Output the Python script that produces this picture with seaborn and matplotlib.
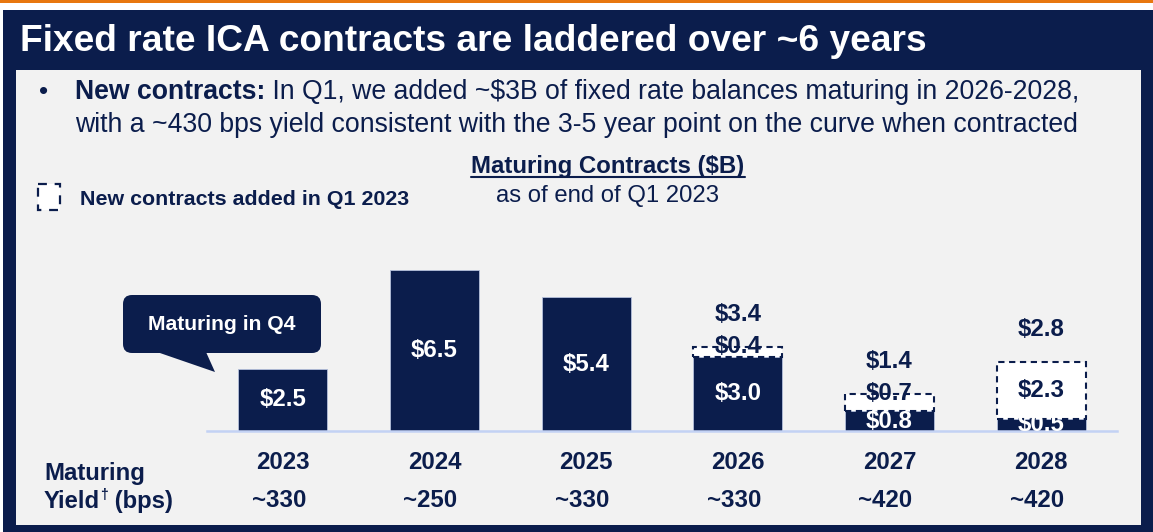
import matplotlib
matplotlib.use("Agg")
import matplotlib.pyplot as plt
from matplotlib.patches import Rectangle, FancyBboxPatch, Polygon
from matplotlib.transforms import Affine2D
from matplotlib.lines import Line2D
from matplotlib.text import Annotation
import numpy as np
import pandas as pd
import seaborn as sns

# data ($B)
years = ["2023", "2024", "2025", "2026", "2027", "2028"]
existing = [2.5, 6.5, 5.4, 3.0, 0.8, 0.5]
new_q1 = [0.0, 0.0, 0.0, 0.4, 0.7, 2.3]
totals = [None, None, None, 3.4, 1.4, 2.8]
yields = ["~330", "~250", "~330", "~330", "~420", "~420"]

NAVY = "#0b1d4c"
ORANGE = "#e8770f"
PANEL = "#f2f2f2"
AXIS_BLUE = "#c3d2f4"

sns.set_style("white")
plt.rcParams["font.family"] = ["Liberation Sans", "DejaVu Sans"]

W, H = 1153, 532
fig = plt.figure(figsize=(W / 100, H / 100), dpi=100)
fig.patch.set_facecolor("white")
# pixel coordinates, origin top-left like the screenshot
img = Affine2D().scale(0.01, -0.01).translate(0, H / 100) + fig.dpi_scale_trans


def chain(text, anchor, xy=(1, 0), **kw):
    a = Annotation(text, xy=xy, xycoords=anchor, va="bottom", ha="left",
                   annotation_clip=False, **kw)
    fig.add_artist(a)
    return a


# frame
fig.add_artist(Rectangle((0, 0), W, 2.5, fc=ORANGE, ec="none", transform=img, zorder=-10))
fig.add_artist(Rectangle((3, 10), W - 3, H - 10, fc=NAVY, ec="none", transform=img, zorder=-10))
fig.add_artist(Rectangle((16, 70), 1125, 455, fc=PANEL, ec="none", transform=img, zorder=-9))

fig.text(20, 51, "Fixed rate ICA contracts are laddered over ~6 years", transform=img,
         color="white", fontsize=26.7, fontweight="bold", va="baseline", ha="left")

# bullet
fs_b = 19.2
fig.text(39, 99, "\u2022", transform=img, color=NAVY, fontsize=19, va="baseline")
t1 = fig.text(75, 99, "New contracts:", transform=img, color=NAVY, fontsize=fs_b,
              fontweight="bold", va="baseline")
chain(" In Q1, we added ~$3B of fixed rate balances maturing in 2026-2028,", t1,
      color=NAVY, fontsize=fs_b)
fig.text(75, 132, "with a ~430 bps yield consistent with the 3-5 year point on the curve when contracted",
         transform=img, color=NAVY, fontsize=fs_b, va="baseline")

# chart header
th = fig.text(608, 173, "Maturing Contracts ($B)", transform=img, color=NAVY, fontsize=17.3,
              fontweight="bold", va="baseline", ha="center")
fig.text(607, 202, "as of end of Q1 2023", transform=img, color=NAVY, fontsize=17.2,
         va="baseline", ha="center")

# legend
fig.add_artist(Rectangle((38, 184), 22, 26, fc="white", ec=NAVY, lw=1.6,
                         ls=(0, (4, 3.5)), transform=img))
fig.text(80, 205, "New contracts added in Q1 2023", transform=img, color=NAVY, fontsize=15.4,
         fontweight="bold", va="baseline")

# callout
fig.add_artist(FancyBboxPatch((123, 295), 198, 58, boxstyle="round,pad=0,rounding_size=9",
                              fc=NAVY, ec="none", transform=img))
fig.add_artist(Polygon([(157, 352), (206, 352), (215, 372)], closed=True, fc=NAVY, ec="none",
                       transform=img))
fig.text(222, 325, "Maturing in Q4", transform=img, color="white", fontsize=15.2,
         fontweight="bold", va="center", ha="center")

# row labels
fs_r = 17.2
fig.text(44, 480, "Maturing", transform=img, color=NAVY, fontsize=fs_r, fontweight="bold",
         va="baseline")
ty = fig.text(44, 508, "Yield", transform=img, color=NAVY, fontsize=fs_r, fontweight="bold",
              va="baseline")
td = chain("\u2020", ty, xy=(1, 0.5), color=NAVY, fontsize=10, fontweight="bold")
chain(" (bps)", (td, ty), color=NAVY, fontsize=fs_r, fontweight="bold")

# bars
px_per_unit = 24.8
ax = fig.add_axes([207 / W, 1 - 431 / H, 910 / W, 6.8 * px_per_unit / H])
ax.set_facecolor("none")
df = pd.DataFrame({"year": years, "existing": existing, "new": new_q1})
bw = 0.587
sns.barplot(data=df, x="year", y="existing", color=NAVY, saturation=1, width=bw,
            errorbar=None, edgecolor="#b4c0dc", linewidth=0.6, ax=ax, zorder=3)
xs = np.arange(len(years))
mask = df["new"] > 0
ax.bar(xs[mask], df["new"][mask], bottom=df["existing"][mask], width=bw,
       facecolor="white", edgecolor=NAVY, linewidth=1.5, linestyle=(0, (3, 2.2)), zorder=4)

lab_fs = 17.3
for i, (e, n, t) in enumerate(zip(existing, new_q1, totals)):
    txt = ax.text(i, e / 2, f"${e:.1f}", color="white", fontsize=lab_fs, fontweight="bold",
                  ha="center", va="center", zorder=6, clip_on=True)
    txt.set_clip_box(ax.bbox)
    if n > 0:
        ny = e + n / 2 if n >= 1 else e + n
        ax.text(i, ny, f"${n:.1f}", color=NAVY, fontsize=lab_fs, fontweight="bold",
                ha="center", va="center", zorder=6)
        ax.text(i, e + n + 32 / px_per_unit, f"${t:.1f}", color=NAVY, fontsize=lab_fs,
                fontweight="bold", ha="center", va="center", zorder=6)

for i, (yr, yl) in enumerate(zip(years, yields)):
    ax.annotate(yr, xy=(i, 0), xytext=(0, -38), textcoords="offset pixels", ha="center",
                va="baseline", color=NAVY, fontsize=lab_fs, fontweight="bold",
                annotation_clip=False)
    ax.annotate(yl, xy=(i, 0), xytext=(-4, -76), textcoords="offset pixels", ha="center",
                va="baseline", color=NAVY, fontsize=lab_fs, fontweight="bold",
                annotation_clip=False)

ax.set_xlim(-0.5, len(years) - 0.5)
ax.set_ylim(0, 6.8)
ax.set_yticks([])
ax.set_xlabel("")
ax.set_ylabel("")
ax.set_xticks(xs)
ax.set_xticklabels([])
ax.tick_params(axis="x", which="major", length=0)
ax.set_xticks(np.arange(-0.5, len(years), 1), minor=True)
ax.tick_params(axis="x", which="minor", length=5, width=1.2, color=AXIS_BLUE, direction="out")
for s in ["top", "left", "right"]:
    ax.spines[s].set_visible(False)
ax.spines["bottom"].set_color(AXIS_BLUE)
ax.spines["bottom"].set_linewidth(1.8)
ax.spines["bottom"].set_zorder(5)

# underline the chart header
fig.canvas.draw()
bb = th.get_window_extent().transformed(img.inverted())
x0, x1 = sorted([bb.x0, bb.x1])
fig.add_artist(Line2D([x0, x1], [177, 177], color=NAVY, lw=1.5, transform=img))

fig.savefig("out.png", dpi=100, facecolor=fig.get_facecolor())
